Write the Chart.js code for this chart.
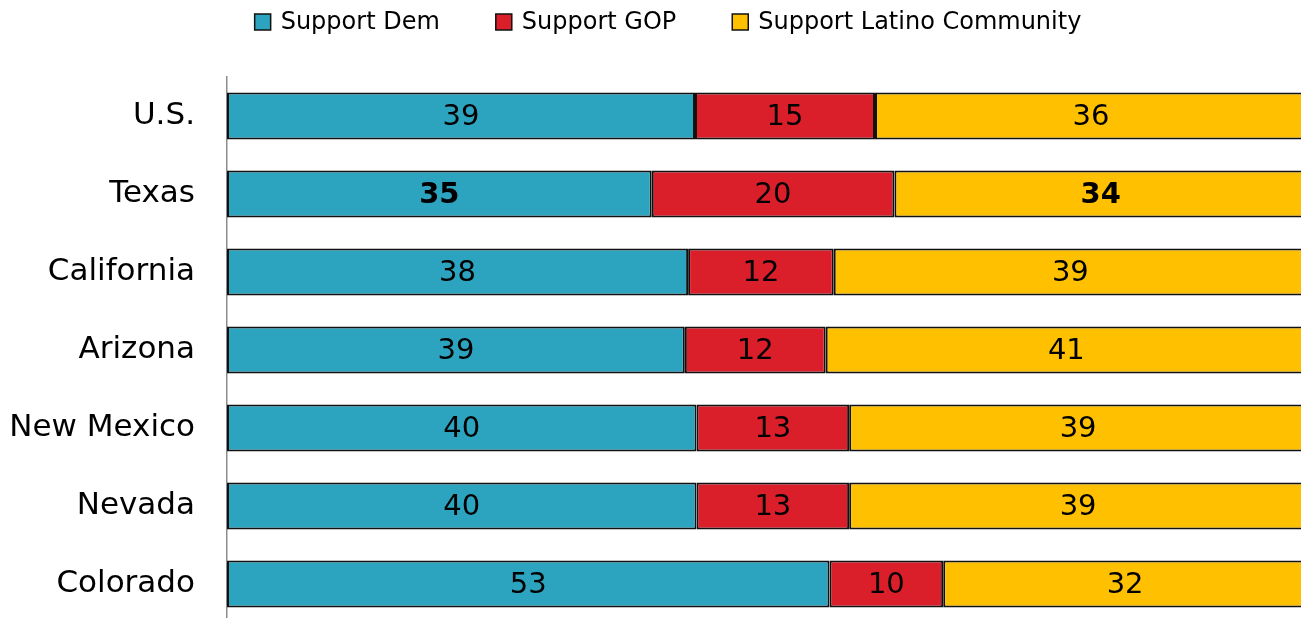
<!DOCTYPE html>
<html lang="en">
<head>
  <meta charset="UTF-8">
  <title>Latino support by state</title>
  <script src="https://cdn.jsdelivr.net/npm/chart.js"></script>
  <style>
    html, body {
      margin: 0;
      padding: 0;
      background: #fff;
      overflow: hidden;
    }
    .wrap {
      position: relative;
      width: 1307px;
      height: 623px;
    }
  </style>
</head>
<body>

  <div class="wrap">
    <canvas id="grafiku"></canvas>
  </div>

  <script>
    // te dhenat, lexuar nga figura
    const states = ['U.S.', 'Texas', 'California', 'Arizona', 'New Mexico', 'Nevada', 'Colorado'];
    const seriesNames = ['Support Dem', 'Support GOP', 'Support Latino Community'];
    const dem = [39, 35, 38, 39, 40, 40, 53];
    const gop = [15, 20, 12, 12, 13, 13, 10];
    const latino = [36, 34, 39, 41, 39, 39, 32];
    const colors = ['#2ca3bf', '#da1f2a', '#ffc000'];
    // [seria, kategoria] qe shkruhen me te trasha
    const boldPoints = [[0, 1], [2, 1]];

    const FONT = '"DejaVu Sans", sans-serif';
    const raw = [dem, gop, latino];
    const totals = states.map((s, i) => dem[i] + gop[i] + latino[i]);

    // cdo shirit shtrihet ne 100%
    const datasets = raw.map((vals, k) => ({
      label: seriesNames[k],
      data: vals.map((v, i) => v / totals[i] * 100),
      rawValues: vals,
      backgroundColor: colors[k],
      borderColor: '#111',
      borderWidth: 2,
      borderSkipped: false,
      barPercentage: 0.6,
      categoryPercentage: 1.0
    }));

    const barLabels = {
      id: 'barLabels',
      afterDatasetsDraw(chart) {
        const ctx = chart.ctx;
        ctx.save();
        ctx.fillStyle = '#000';
        ctx.textAlign = 'center';
        ctx.textBaseline = 'middle';
        chart.data.datasets.forEach((ds, k) => {
          chart.getDatasetMeta(k).data.forEach((bar, i) => {
            const bold = boldPoints.some(p => p[0] === k && p[1] === i);
            ctx.font = (bold ? 'bold ' : '') + '29px ' + FONT;
            ctx.fillText(String(ds.rawValues[i]), (bar.x + bar.base) / 2, bar.y + 1);
          });
        });
        ctx.restore();
      }
    };

    const topLegend = {
      id: 'topLegend',
      afterDraw(chart) {
        const ctx = chart.ctx;
        ctx.save();
        ctx.font = '24px ' + FONT;
        ctx.textBaseline = 'middle';
        const box = 16, gapText = 10, gapItem = 56, y = 22;
        const widths = seriesNames.map(n => ctx.measureText(n).width);
        const total = widths.reduce((a, w) => a + box + gapText + w, 0) + gapItem * (seriesNames.length - 1);
        let x = 668 - total / 2;
        seriesNames.forEach((n, k) => {
          ctx.fillStyle = colors[k];
          ctx.fillRect(x, y - box / 2, box, box);
          ctx.strokeStyle = '#111';
          ctx.lineWidth = 1.5;
          ctx.strokeRect(x, y - box / 2, box, box);
          ctx.fillStyle = '#000';
          ctx.fillText(n, x + box + gapText, y + 1);
          x += box + gapText + widths[k] + gapItem;
        });
        ctx.restore();
      }
    };

    const ctx = document.getElementById('grafiku').getContext('2d');

    new Chart(ctx, {
      type: 'bar',
      data: {
        labels: states,
        datasets: datasets
      },
      options: {
        indexAxis: 'y',
        responsive: true,
        maintainAspectRatio: false,
        animation: false,
        layout: { padding: { top: 77, left: 0, right: 0, bottom: 0 } },
        plugins: {
          legend: { display: false },
          tooltip: { enabled: false }
        },
        scales: {
          x: {
            stacked: true,
            display: false,
            min: 0,
            max: 100
          },
          y: {
            stacked: true,
            afterFit: s => {
              s.width = 227;
              // padding e etiketave nuk duhet te ngushtoje zonen e grafikut
              s.paddingTop = 0;
              s.paddingBottom = 0;
            },
            grid: { display: false, drawTicks: false },
            border: { display: true, color: '#8c8c8c', width: 1.5 },
            ticks: {
              color: '#000',
              padding: 32,
              font: { family: FONT, size: 31 }
            }
          }
        }
      },
      plugins: [barLabels, topLegend]
    });
  </script>

</body>
</html>
